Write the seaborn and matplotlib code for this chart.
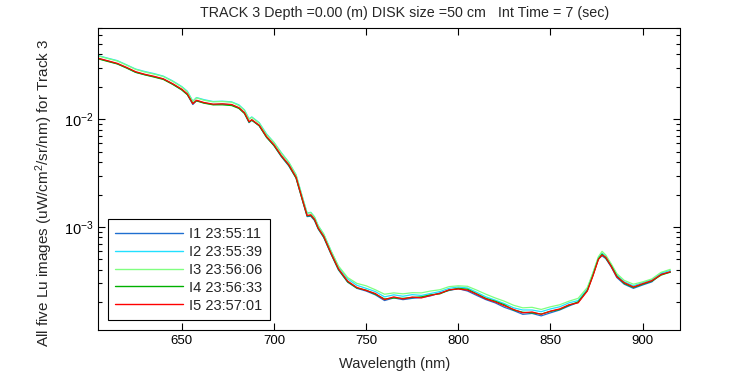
import numpy as np
import pandas as pd
import matplotlib
matplotlib.use('Agg')
import matplotlib.pyplot as plt
import seaborn as sns
from matplotlib.ticker import LogLocator, FixedLocator

# wavelength grid (nm) and five Lu spectra (units of 1e-4 uW/cm^2/sr/nm)
wavelength = [605, 610, 615, 620, 625, 630, 635, 640, 645, 650,
              653, 656, 658, 662, 667, 672, 677, 681, 684, 686.5, 688, 692, 696, 700,
              704, 708, 712, 716, 718, 720, 722, 724, 727, 731, 735, 740,
              745, 750, 755, 760, 765, 770, 775, 780, 785, 790, 795, 800, 805, 810,
              815, 820, 825, 830, 835, 840, 845, 850, 855, 860, 865, 870,
              873, 876, 878, 880, 883, 886, 890,
              895, 900, 905, 910, 915]

lu_i1 = [364, 346, 327, 300, 273, 259, 248, 236, 212, 188,
         170, 137, 149, 142, 137, 138, 136, 127, 114, 93, 98, 87, 68, 57,
         45, 37, 28.5, 16.4, 12.5, 12.6, 11.5, 9.6, 8.0, 5.6, 4.0, 3.08,
         2.70, 2.55, 2.35, 2.08, 2.20, 2.12, 2.18, 2.22, 2.30, 2.45, 2.58, 2.68, 2.55, 2.32,
         2.12, 1.98, 1.80, 1.68, 1.55, 1.58, 1.50, 1.60, 1.70, 1.85, 2.00, 2.60,
         3.60, 5.10, 5.40, 5.10, 4.25, 3.40, 2.95,
         2.70, 2.90, 3.10, 3.70, 3.80]

lu_i2 = [388, 368, 350, 320, 292, 277, 265, 251, 227, 201,
         182, 147, 159, 152, 146, 147, 145, 136, 122, 101, 105, 93, 73, 61,
         49, 40, 30.5, 17.6, 13.5, 13.7, 12.4, 10.3, 8.6, 6.0, 4.3, 3.30,
         2.88, 2.70, 2.52, 2.25, 2.35, 2.28, 2.36, 2.32, 2.42, 2.52, 2.70, 2.78, 2.72, 2.48,
         2.25, 2.10, 1.95, 1.78, 1.70, 1.70, 1.64, 1.74, 1.82, 1.98, 2.08, 2.68,
         3.70, 5.20, 5.70, 5.40, 4.45, 3.60, 3.10,
         2.85, 3.05, 3.25, 3.75, 3.95]

lu_i3 = [385, 365, 347, 318, 290, 274, 262, 249, 225, 199,
         180, 146, 158, 150, 145, 146, 144, 134, 121, 100, 104, 92, 72, 61,
         48.5, 40, 30.5, 17.5, 13.4, 13.6, 12.4, 10.3, 8.6, 6.0, 4.35, 3.40,
         3.00, 2.85, 2.62, 2.38, 2.45, 2.40, 2.46, 2.45, 2.55, 2.62, 2.80, 2.85, 2.82, 2.60,
         2.38, 2.20, 2.05, 1.88, 1.78, 1.80, 1.72, 1.82, 1.90, 2.05, 2.18, 2.75,
         3.75, 5.30, 5.95, 5.50, 4.55, 3.70, 3.20,
         2.95, 3.10, 3.30, 3.80, 4.05]

lu_i4 = [362, 343, 326, 299, 272, 258, 246, 234, 211, 187,
         169, 140, 148, 141, 136, 136, 134, 126, 113, 94, 98, 87, 68, 57,
         45.5, 37.5, 28.5, 16.5, 12.7, 12.8, 11.7, 9.7, 8.1, 5.65, 4.05, 3.10,
         2.72, 2.60, 2.38, 2.15, 2.20, 2.18, 2.22, 2.25, 2.35, 2.40, 2.60, 2.70, 2.65, 2.40,
         2.18, 2.05, 1.90, 1.70, 1.62, 1.60, 1.56, 1.65, 1.72, 1.88, 2.02, 2.58,
         3.55, 5.05, 5.60, 5.15, 4.35, 3.50, 3.00,
         2.75, 2.95, 3.15, 3.58, 3.82]

lu_i5 = [367, 348, 330, 303, 276, 261, 250, 237, 214, 190,
         172, 139, 150, 143, 138, 139, 137, 128, 115, 95, 99, 88, 69, 58,
         46, 38, 29, 16.7, 12.8, 13.0, 11.8, 9.8, 8.2, 5.7, 4.1, 3.15,
         2.75, 2.58, 2.42, 2.12, 2.25, 2.15, 2.24, 2.20, 2.32, 2.42, 2.62, 2.66, 2.60, 2.38,
         2.15, 2.02, 1.86, 1.72, 1.60, 1.63, 1.55, 1.66, 1.74, 1.90, 1.98, 2.55,
         3.50, 5.00, 5.50, 5.25, 4.30, 3.45, 3.05,
         2.78, 2.98, 3.18, 3.62, 3.85]

labels = ['I1 23:55:11', 'I2 23:55:39', 'I3 23:56:06', 'I4 23:56:33', 'I5 23:57:01']
colors = ['#1f6fd0', '#22e0ff', '#80ff80', '#00b000', '#ff0000']

frames = []
for lab, vals in zip(labels, [lu_i1, lu_i2, lu_i3, lu_i4, lu_i5]):
    frames.append(pd.DataFrame({'wavelength': wavelength,
                                'lu': np.array(vals) * 1e-4,
                                'image': lab}))
df = pd.concat(frames, ignore_index=True)

sns.set_style('ticks')
plt.rcParams['font.family'] = ['Liberation Sans', 'DejaVu Sans']
plt.rcParams['font.size'] = 9
plt.rcParams['mathtext.default'] = 'regular'

fig = plt.figure(figsize=(7.5, 3.75), dpi=100)
ax = fig.add_axes([0.131, 0.119, 0.775, 0.806])

sns.lineplot(data=df, x='wavelength', y='lu', hue='image', palette=colors,
             hue_order=labels, estimator=None, sort=False, linewidth=0.9, ax=ax)

ax.set_yscale('log')
ax.set_xlim(604.7, 920)
ax.set_ylim(1.1e-4, 0.07)
ax.xaxis.set_major_locator(FixedLocator([650, 700, 750, 800, 850, 900]))
ax.yaxis.set_major_locator(LogLocator(base=10))
ax.yaxis.set_minor_locator(LogLocator(base=10, subs=np.arange(2, 10)))

ax.tick_params(which='both', direction='in', top=True, right=True,
               colors='black', labelsize=9.5)
ax.tick_params(axis='y', labelsize=10.5)
ax.tick_params(which='major', length=5, width=0.8)
ax.tick_params(which='minor', length=3, width=0.8)
for sp in ax.spines.values():
    sp.set_color('black')
    sp.set_linewidth(0.8)

ax.set_xlabel('Wavelength (nm)', fontsize=10.5)
ax.xaxis.set_label_coords(0.51, -0.088)
ax.set_ylabel('All five Lu images (uW/cm$^2$/sr/nm) for Track 3', fontsize=11)
ax.yaxis.set_label_coords(-0.075, 0.455)
ax.set_title('TRACK 3 Depth =0.00 (m) DISK size =50 cm   Int Time = 7 (sec)',
             fontsize=10.3, pad=8, x=0.527)

leg = ax.legend(loc='lower left', bbox_to_anchor=(0.017, 0.035), borderaxespad=0,
                frameon=True, fancybox=False, edgecolor='black', framealpha=1,
                handlelength=4.6, handletextpad=0.45, borderpad=0.5,
                labelspacing=0.27, fontsize=10.5)
leg.get_frame().set_linewidth(0.8)
for line in leg.get_lines():
    line.set_linewidth(1.0)

fig.savefig('out.png', dpi=100, facecolor='white')
